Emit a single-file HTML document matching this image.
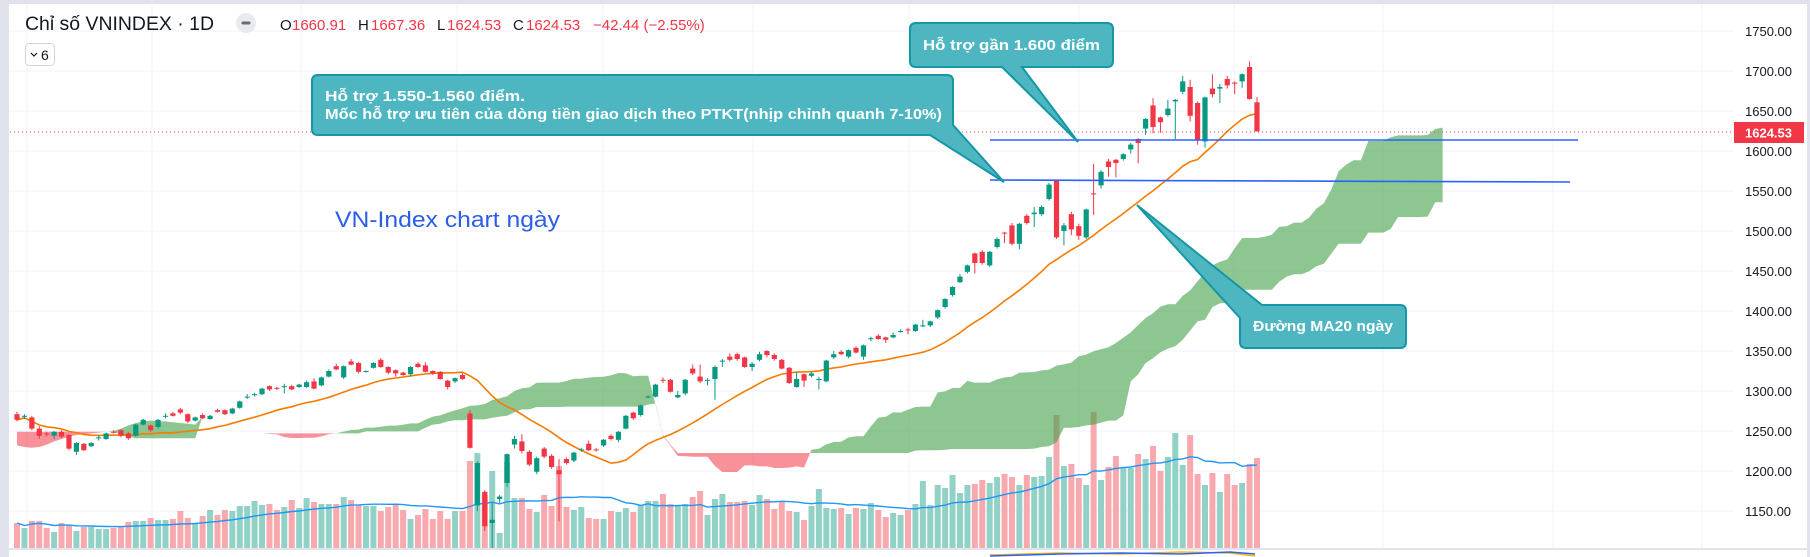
<!DOCTYPE html>
<html><head><meta charset="utf-8"><style>
html,body{margin:0;padding:0;background:#fff;}
svg{display:block;font-family:"Liberation Sans","DejaVu Sans",sans-serif;}
</style></head><body>
<svg id="chart" width="1810" height="557" viewBox="0 0 1810 557" xmlns="http://www.w3.org/2000/svg">
<rect x="0" y="0" width="1810" height="557" fill="#ffffff"/>
<g id="grid"></g>
<g id="vol"></g>
<g id="cloud"></g>
<g id="ma"></g>
<g id="candles"></g>
<g id="axis"></g>
<g id="overlay">
<line x1="10" y1="132" x2="1734" y2="132" stroke="#f23645" stroke-width="1" stroke-dasharray="1,3"/>
<line x1="990" y1="140" x2="1578" y2="140" stroke="#2962ff" stroke-width="1.6"/>
<line x1="990" y1="180" x2="1570" y2="182" stroke="#2962ff" stroke-width="1.6"/>
<rect x="1734" y="122" width="70" height="21" fill="#f23645"/>
<text x="1745" y="137.5" font-size="13" fill="#fff" font-weight="bold">1624.53</text>
<path d="M916,23 H1107 Q1113,23 1113,29 V61 Q1113,67 1107,67 H1022 L1078,142 L1002,67 H916 Q910,67 910,61 V29 Q910,23 916,23 Z" fill="#4db6c1" stroke="#1597a5" stroke-width="2"/>
<text x="923" y="50" font-size="15" font-weight="bold" fill="#fff" textLength="177" lengthAdjust="spacingAndGlyphs">Hỗ trợ gần 1.600 điểm</text>
<path d="M318,75 H947 Q953,75 953,81 V125 L1004,182 L930,135 H318 Q312,135 312,129 V81 Q312,75 318,75 Z" fill="#4db6c1" stroke="#1597a5" stroke-width="2"/>
<text x="325" y="101" font-size="15" font-weight="bold" fill="#fff" textLength="200" lengthAdjust="spacingAndGlyphs">Hỗ trợ 1.550-1.560 điểm.</text>
<text x="325" y="119" font-size="15" font-weight="bold" fill="#fff" textLength="617" lengthAdjust="spacingAndGlyphs">Mốc hỗ trợ ưu tiên của dòng tiền giao dịch theo PTKT(nhịp chỉnh quanh 7-10%)</text>
<path d="M1262,305 H1400 Q1406,305 1406,311 V342 Q1406,348 1400,348 H1246 Q1240,348 1240,342 V318 L1137,205 Z" fill="#4db6c1" stroke="#1597a5" stroke-width="2"/>
<text x="1253" y="331" font-size="15" font-weight="bold" fill="#fff" textLength="140" lengthAdjust="spacingAndGlyphs">Đường MA20 ngày</text>
<text x="335" y="227" font-size="22" fill="#2a5ee8" textLength="225" lengthAdjust="spacingAndGlyphs">VN-Index chart ngày</text>
</g>
<g id="chrome">
<rect x="0" y="0" width="1810" height="4" fill="#e0e3eb"/>
<rect x="0" y="0" width="9" height="557" fill="#e0e3eb"/>
<rect x="1807" y="0" width="3" height="557" fill="#e0e3eb"/>
<rect x="9" y="548" width="1798" height="2" fill="#e0e3eb"/>
<polyline points="990,555 1060,553 1120,554 1180,552 1230,553 1255,556" fill="none" stroke="#f5b800" stroke-width="1.5"/>
<polyline points="990,556 1060,554 1120,553 1180,554 1230,552 1255,554" fill="none" stroke="#2962ff" stroke-width="1.5"/>
</g>
<g id="header">
<text x="25" y="30" font-size="19" fill="#131722" textLength="189" lengthAdjust="spacingAndGlyphs">Chỉ số VNINDEX · 1D</text>
<circle cx="246" cy="23" r="10" fill="#e9eaee"/>
<rect x="241.5" y="21.5" width="9" height="3" rx="1.5" fill="#6a6d78"/>
<text y="30" font-size="15"><tspan x="280" fill="#131722">O</tspan><tspan x="292" fill="#f23645">1660.91</tspan><tspan x="358" fill="#131722">H</tspan><tspan x="371" fill="#f23645">1667.36</tspan><tspan x="437" fill="#131722">L</tspan><tspan x="447" fill="#f23645">1624.53</tspan><tspan x="513" fill="#131722">C</tspan><tspan x="526" fill="#f23645">1624.53</tspan><tspan x="593" fill="#f23645">−42.44 (−2.55%)</tspan></text>
<rect x="25.5" y="43.5" width="29" height="22" rx="4" fill="#fff" stroke="#d1d4dc"/>
<polyline points="31,53 34,56 37,53" fill="none" stroke="#131722" stroke-width="1.2"/>
<text x="41" y="60" font-size="14" fill="#131722">6</text>
</g>
</svg>
<script>
const openP=[1271,1268,1267,1253,1247,1244,1249,1245,1224,1234,1231,1241,1240,1249,1251,1247,1244,1258,1257,1255,1268,1272,1277,1271,1263,1270,1265,1276,1276,1272,1279,1292,1295,1296,1306,1304,1305,1306,1305,1305,1312,1307,1318,1331,1317,1337,1335,1324,1329,1339,1330,1326,1323,1321,1334,1332,1325,1324,1313,1312,1320,1272,1157,1174,1135,1165,1185,1233,1237,1224,1199,1228,1219,1201,1215,1213,1226,1234,1227,1232,1244,1239,1253,1273,1270,1292,1293,1314,1314,1292,1297,1328,1318,1313,1315,1337,1343,1346,1342,1330,1339,1350,1345,1339,1329,1305,1321,1319,1314,1312,1342,1349,1343,1354,1343,1365,1369,1367,1367,1374,1377,1375,1381,1382,1392,1405,1420,1436,1449,1472,1474,1457,1480,1498,1507,1484,1519,1521,1521,1540,1564,1500,1521,1506,1492,1547,1557,1587,1589,1590,1602,1615,1628,1657,1642,1645,1662,1674,1680,1660,1612,1678,1678,1690,1685.5,1687,1705,1660.91];
const closeP=[1264,1269,1253,1244,1246,1249,1243,1228,1235,1226,1235,1242,1247,1248,1244,1241,1258,1264,1251,1264,1269,1269,1273,1262,1267,1266,1269,1274,1271,1278,1287,1293,1296,1303,1302,1303,1306,1302,1308,1311,1303,1317,1325,1327,1331,1333,1324,1325,1335,1330,1323,1322,1320,1330,1330,1324,1322,1315,1305,1316,1315,1229,1210,1131,1139,1168,1221,1240,1225,1208,1216,1218,1205,1196,1210,1223,1227,1226,1226,1239,1240,1249,1269,1266,1282,1293,1308,1313,1299,1295,1314,1322,1312,1314,1330,1338,1339,1340,1330,1334,1346,1345,1340,1328,1310,1315,1313,1322,1315,1338,1346,1346,1351,1348,1357,1366,1365,1364,1370,1375,1376,1383,1382,1387,1401,1415,1430,1443,1457,1460,1460,1474,1490,1497,1484,1509,1510,1523,1530,1558,1492,1507,1502,1494,1527,1546,1574,1580,1585,1596,1608,1610,1640,1630,1636,1653,1664,1687,1644,1613,1667,1671,1680,1682,1685,1696,1665,1624.53];
const highP=[1274,1271,1269,1256,1249,1250,1251,1246,1236,1235,1236,1245,1248,1251,1252,1249,1259,1265,1258,1265,1272,1274,1279,1272,1268,1272,1270,1278,1277,1279,1288,1296,1298,1304,1307,1305,1309,1308,1309,1313,1316,1318,1327,1334,1332,1340,1336,1326,1336,1341,1331,1327,1324,1331,1336,1336,1326,1325,1314,1317,1322,1276,1212,1176,1160,1170,1222,1244,1246,1226,1218,1230,1221,1215,1217,1224,1229,1238,1229,1240,1246,1250,1270,1274,1283,1295,1309,1317,1315,1300,1315,1333,1333,1316,1332,1340,1347,1348,1343,1336,1349,1351,1347,1340,1330,1324,1322,1324,1318,1339,1350,1351,1352,1356,1358,1368,1371,1368,1373,1377,1379,1384,1389,1388,1402,1416,1431,1446,1458,1473,1476,1475,1492,1499,1510,1510,1521,1530,1532,1560,1564,1510,1524,1509,1528,1584,1576,1590,1590,1597,1610,1616,1641,1666,1643,1664,1665,1694,1689,1662,1668,1696,1684,1694,1687,1697,1712,1667.36];
const lowP=[1262,1265,1251,1240,1243,1240,1241,1226,1220,1225,1230,1238,1239,1247,1242,1239,1243,1257,1249,1253,1266,1268,1271,1260,1262,1265,1264,1273,1270,1271,1278,1290,1293,1295,1300,1301,1297,1301,1304,1304,1302,1306,1317,1326,1315,1332,1322,1323,1328,1329,1321,1318,1319,1318,1329,1323,1320,1314,1302,1310,1314,1228,1150,1125,1104,1160,1180,1228,1222,1206,1196,1216,1203,1137,1208,1211,1224,1225,1224,1230,1238,1236,1252,1264,1268,1291,1292,1310,1298,1291,1295,1320,1310,1307,1289,1330,1337,1338,1329,1325,1337,1342,1338,1327,1309,1304,1305,1317,1302,1311,1340,1345,1341,1347,1339,1362,1364,1360,1366,1373,1371,1374,1380,1380,1390,1403,1418,1435,1447,1447,1458,1455,1478,1485,1482,1477,1508,1505,1519,1538,1490,1482,1495,1489,1490,1520,1553,1568,1567,1588,1597,1585,1620,1622,1623,1643,1615,1671,1637,1608,1604,1667,1660,1678,1671,1679,1664,1624.53];
const volumeM=[500,400,540,540,400,320,500,460,340,420,420,380,380,400,420,520,540,540,600,560,560,580,740,600,500,640,760,660,760,740,840,840,940,860,880,760,820,960,800,1000,920,880,880,880,1020,960,860,840,840,740,820,860,760,580,660,780,580,740,580,740,740,1740,1900,1060,1540,300,1720,1000,1000,780,720,1060,840,1640,820,760,820,600,580,580,740,720,800,720,860,940,940,1080,880,840,880,1020,1140,660,980,1080,920,920,940,860,1060,980,780,920,740,720,560,840,1180,800,780,800,680,800,780,900,760,620,700,660,760,880,1340,860,1260,1200,1460,1100,1260,1280,1360,1300,1420,1480,1420,1260,1460,1420,1440,1820,2660,1640,1680,1400,1260,2720,1360,1620,1840,1600,1600,1880,1780,2040,1540,1820,2300,1660,2260,1480,1260,1500,1120,1480,1260,1300,1680,1800];
const priceTicks=[1150,1200,1250,1300,1350,1400,1450,1500,1550,1600,1650,1700,1750];
const earlyA=[1232,1230,1229,1230,1233,1237,1240,1243,1245,1246,1247,1248,1249,1250,1253,1257,1260,1262,1263,1262,1262,1261,1260,1259,1258];
const earlyB=[1249,1249,1249,1249,1249,1249,1249,1249,1249,1249,1249,1249,1249,1249,1246,1243,1241,1241,1241,1241,1241,1241,1241,1241,1241];

const NS='http://www.w3.org/2000/svg';
const N=closeP.length;
const X0=17, DX=7.425;
function xOf(i){return X0+i*DX;}
function yOf(p){return 111+(1650-p)*0.8;}
function yVol(v){return 548-v/20;}
function mk(tag,attrs,parent){const e=document.createElementNS(NS,tag);for(const k in attrs)e.setAttribute(k,attrs[k]);parent.appendChild(e);return e;}

const grid=document.getElementById('grid');
const gridX=[27,152,301,457,603,753,909,1079,1234,1383,1553,1702];
gridX.forEach(gx=>{const l=mk('line',{x1:gx,y1:4,x2:gx,y2:548,stroke:'#f0f3fa','stroke-width':1},grid);

});
const axis=document.getElementById('axis');
priceTicks.forEach(p=>{const y=yOf(p);
const l=mk('line',{x1:9,y1:y,x2:1734,y2:y,stroke:'#f0f3fa','stroke-width':1},grid);


const t=mk('text',{x:1745,y:y+5,'font-size':13,fill:'#131722'},axis);
t.textContent=p.toFixed(2);

});

const vol=document.getElementById('vol');
for(let i=0;i<N;i++){const up=closeP[i]>=openP[i];const y=yVol(volumeM[i]);
const r=mk('rect',{x:xOf(i)-3,y:y,width:6,height:548-y,fill:up?'#92d2c6':'#f7a9ae'},vol);

}
function sma(arr,n,i){let a=Math.max(0,i-n+1),s=0;for(let k=a;k<=i;k++)s+=arr[k];return s/(i-a+1);}
let vpts=[];for(let i=0;i<N;i++)vpts.push(xOf(i)+','+yVol(sma(volumeM,20,i)).toFixed(1));
const vma=mk('polyline',{points:vpts.join(' '),fill:'none',stroke:'#2196f3','stroke-width':1.4},vol);



function hl(s,len){let a=Math.max(0,s-len+1),hi=-1e9,lo=1e9;for(let k=a;k<=s;k++){hi=Math.max(hi,highP[k]);lo=Math.min(lo,lowP[k]);}return (hi+lo)/2;}
const A=[],B=[];
for(let k=0;k<N+25;k++){if(k<25){A.push(earlyA[k]);B.push(earlyB[k]);}else{const s=k-25;A.push((hl(s,9)+hl(s,26))/2);B.push(hl(s,52));}}
const cloud=document.getElementById('cloud');
let start=0;
for(let k=1;k<=A.length;k++){
  const sgn=k<A.length?(A[k]>=B[k]):null;const prev=A[start]>=B[start];
  if(k===A.length||sgn!==prev){
    const end=Math.min(k,A.length-1);let pts=[];
    for(let j=start;j<=end;j++)pts.push(xOf(j)+','+yOf(A[j]).toFixed(1));
    for(let j=end;j>=start;j--)pts.push(xOf(j)+','+yOf(B[j]).toFixed(1));
    const pg=mk('polygon',{points:pts.join(' '),fill:prev?'rgba(67,160,71,0.6)':'rgba(242,54,69,0.55)'},cloud);
    
    
    start=k;}
}

const ma=document.getElementById('ma');
let mpts=[];for(let i=0;i<N;i++)mpts.push(xOf(i)+','+yOf(sma(closeP,20,i)).toFixed(1));
const mal=mk('polyline',{points:mpts.join(' '),fill:'none',stroke:'#f57c00','stroke-width':1.6},ma);



const cg=document.getElementById('candles');
for(let i=0;i<N;i++){const up=closeP[i]>=openP[i];const col=up?'#089981':'#f23645';const x=xOf(i);
const g=mk('g',{},cg);


mk('line',{x1:x,y1:yOf(highP[i]),x2:x,y2:yOf(lowP[i]),stroke:col,'stroke-width':1},g);
const t=yOf(Math.max(openP[i],closeP[i])),b=yOf(Math.min(openP[i],closeP[i]));
mk('rect',{x:x-2.6,y:t,width:5.2,height:Math.max(1,b-t),fill:col},g);}
</script>
</body></html>
